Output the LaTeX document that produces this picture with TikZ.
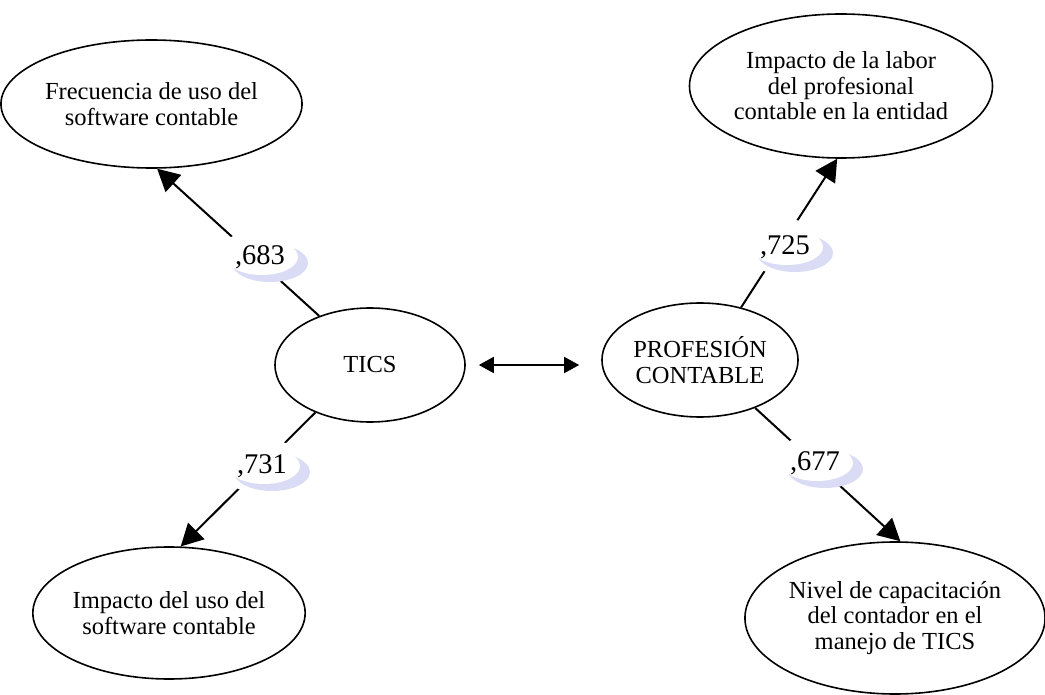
\documentclass[tikz,border=0pt]{standalone}
\usepackage{fontspec}
\setmainfont{Liberation Serif}
\usetikzlibrary{arrows.meta,shapes.geometric}
\definecolor{moon}{RGB}{218,220,246}
\tikzset{
  oval/.style={draw, line width=1.6pt, ellipse, inner sep=0pt, align=center,
    font=\fontsize{24.5}{25.5}\selectfont},
  link/.style={line width=2pt, -{Triangle[length=22pt,width=23pt]}},
  both/.style={line width=1.6pt, {Triangle[length=15pt,width=16pt]}-{Triangle[length=15pt,width=16pt]}},
  coef/.pic={
    \fill[white] (0,0) ellipse [x radius=41, y radius=28];
    \fill[moon] (10,6) ellipse [x radius=38, y radius=19];
    \fill[white] (2,0) ellipse [x radius=36, y radius=18];
    \node[font=\fontsize{28.5}{28.5}\selectfont, inner sep=0pt] (-t) at (0,0) {#1};
  }
}
\begin{document}
\begin{tikzpicture}[x=1pt,y=-1pt]
\useasboundingbox[fill=white] (0,0) rectangle (1045,695);
\node[oval, minimum width=287, minimum height=128] (a) at (151.5,104) {Frecuencia de uso del\\software contable};
\node[oval, minimum width=296, minimum height=144] (b) at (841,86) {Impacto de la labor\\del profesional\\contable en la entidad};
\node[oval, minimum width=190, minimum height=114] (tics) at (370,365) {TICS};
\node[oval, minimum width=196, minimum height=114] (prof) at (700,360) {PROFESIÓN\\CONTABLE};
\node[oval, minimum width=272, minimum height=132] (c) at (169,613) {Impacto del uso del\\software contable};
\node[oval, minimum width=284, minimum height=152] (d) at (895,618) {Nivel de capacitación\\del contador en el\\manejo de TICS};
\draw[link] (tics.136) -- (a.-85);
\draw[link] (tics.-139) -- (c.80);
\draw[link] (prof.52) -- (b.-93);
\draw[link] (prof.-41.6) -- (d.86);
\coordinate (mid) at (tics.east);
\draw[both, shorten <=13pt, shorten >=22pt] (tics.east) -- (prof.west |- mid);
\pic (l1) at (260,257) {coef={,683}};
\pic (l2) at (262,466) {coef={,731}};
\pic (l3) at (785,247) {coef={,725}};
\pic (l4) at (815,463) {coef={,677}};
\end{tikzpicture}
\end{document}
